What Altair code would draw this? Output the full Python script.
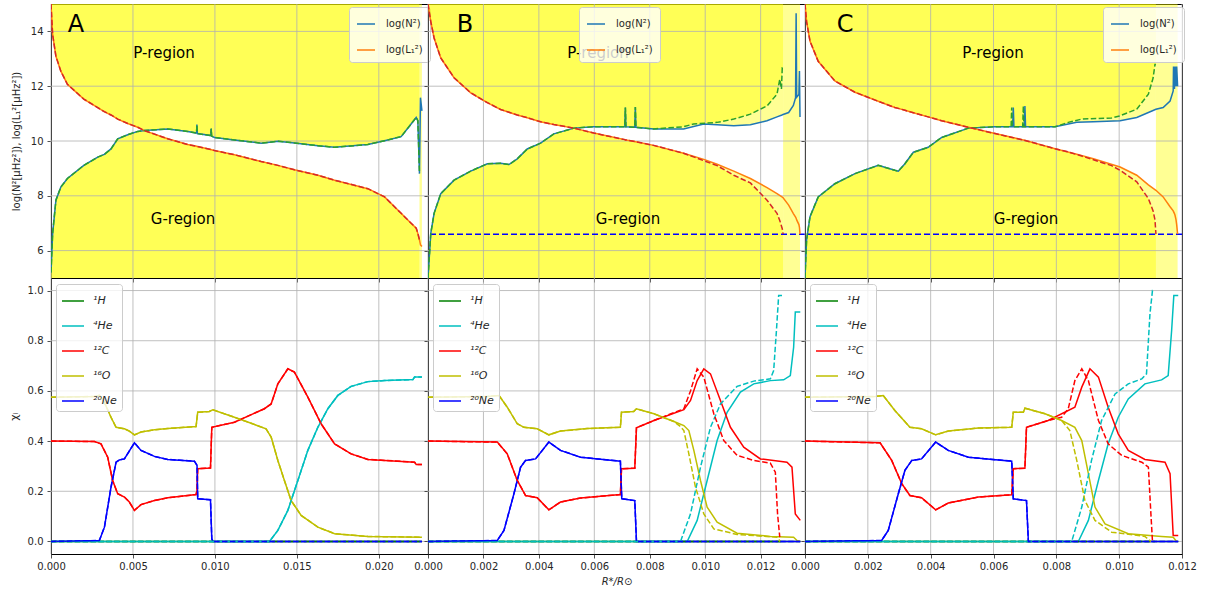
import altair as alt
import pandas as pd

# ===================== top row: log N^2 and log L1^2 =====================
# Panel A (both models coincide; model 2 stops slightly earlier)
A_x = [0, 0.0001, 0.0003, 0.0006, 0.001, 0.002, 0.00285, 0.00325, 0.00366, 0.00407,
       0.00468, 0.00529, 0.0057, 0.00712, 0.00834, 0.00888, 0.0089, 0.00893, 0.00975, 0.00977,
       0.0098, 0.00997, 0.01119, 0.01282, 0.01384, 0.01485, 0.01628, 0.0173, 0.01933, 0.02035,
       0.02136, 0.02197, 0.02228, 0.02238, 0.02248, 0.02254, 0.02263]
A_N2 = [5.2, 6.63, 7.84, 8.32, 8.63, 9.11, 9.41, 9.51, 9.71, 10.08,
        10.23, 10.35, 10.38, 10.44, 10.35, 10.29, 10.6, 10.27, 10.2, 10.45,
        10.18, 10.13, 10.04, 9.92, 9.99, 9.93, 9.83, 9.77, 9.87, 10.01,
        10.16, 10.62, 10.86, 10.74, 8.81, 11.58, 11.1]
A_L2 = [15.0, 13.88, 13.09, 12.55, 12.07, 11.53, 11.22, 11.07, 10.95, 10.80,
        10.64, 10.50, 10.38, 10.08, 9.87, 9.81, 9.80, 9.80, 9.69, 9.68,
        9.68, 9.65, 9.50, 9.25, 9.11, 8.95, 8.75, 8.57, 8.26, 7.96,
        7.36, 7.00, 6.82, 6.63, 6.39, 6.21, 6.15]
A2_x, A2_N2, A2_L2 = A_x[:35], A_N2[:35], A_L2[:35]

# Panel B, model 1 (solid)
B1_x = [0, 0.0001, 0.00022, 0.00046, 0.00094, 0.00154, 0.00214, 0.00262, 0.00292, 0.00322,
        0.00358, 0.00406, 0.00454, 0.00526, 0.00598, 0.0071, 0.00712, 0.00714, 0.00746, 0.00748,
        0.0075, 0.00814, 0.00922, 0.00995, 0.01043, 0.01103, 0.01163, 0.01223, 0.01259, 0.01277,
        0.01281, 0.01301, 0.01318, 0.01326, 0.01328, 0.0133, 0.01338, 0.0134, 0.01342]
B1_N2 = [5.0, 6.63, 7.36, 8.08, 8.57, 8.90, 9.17, 9.19, 9.14, 9.35,
         9.71, 9.92, 10.26, 10.47, 10.52, 10.52, 11.22, 10.52, 10.50, 11.24,
         10.50, 10.44, 10.44, 10.62, 10.59, 10.56, 10.59, 10.74, 10.88, 10.95,
         10.97, 11.04, 11.30, 11.58, 14.66, 11.60, 11.70, 12.55, 10.88]
B1_L2 = [15.0, 14.36, 13.76, 13.03, 12.31, 11.76, 11.40, 11.15, 11.05, 10.95,
         10.85, 10.70, 10.60, 10.47, 10.29, 10.05, 10.04, 10.04, 9.98, 9.97,
         9.97, 9.84, 9.55, 9.33, 9.15, 8.90, 8.63, 8.30, 8.08, 7.96,
         7.93, 7.66, 7.35, 7.22, 7.18, 7.12, 6.95, 6.85, 6.60]
# Panel B, model 2 (dashed)
B2_x = B1_x[:23] + [0.00958, 0.01043, 0.01103, 0.01163, 0.01223, 0.01259, 0.01269, 0.01275, 0.01278, 0.01281]
B2_N2 = B1_N2[:22] + [10.52, 10.62, 10.68, 10.80, 10.98, 11.28, 11.71, 12.25, 11.90, 12.67, 12.67]
B2_L2 = B1_L2[:23] + [9.42, 9.10, 8.75, 8.47, 7.84, 7.36, 7.10, 6.90, 6.80, 6.60]

# Panel C, model 1 (solid)
C1_x = [0, 0.00005, 0.00016, 0.00042, 0.00095, 0.00159, 0.00233, 0.00286, 0.00297, 0.00318,
        0.00345, 0.00392, 0.00435, 0.0052, 0.00605, 0.00661, 0.00663, 0.00665, 0.00698, 0.007,
        0.00702, 0.00796, 0.00865, 0.00918, 0.01003, 0.01056, 0.01093, 0.01117, 0.0114, 0.01162,
        0.01172, 0.01173, 0.01176, 0.01178, 0.01181, 0.01183, 0.01186]
C1_N2 = [5.0, 6.39, 7.24, 7.96, 8.44, 8.81, 9.11, 8.93, 8.90, 9.17,
         9.59, 9.77, 10.13, 10.47, 10.52, 10.52, 11.22, 10.52, 10.52, 11.28,
         10.52, 10.52, 10.68, 10.70, 10.74, 10.86, 11.04, 11.16, 11.22, 11.46,
         11.83, 12.72, 11.90, 12.72, 12.00, 12.72, 12.00]
C1_L2 = [15.0, 14.36, 13.64, 12.91, 12.19, 11.78, 11.45, 11.22, 11.19, 11.12,
         11.03, 10.88, 10.74, 10.50, 10.27, 10.13, 10.12, 10.12, 10.03, 10.02,
         10.02, 9.72, 9.52, 9.35, 9.05, 8.75, 8.40, 8.20, 7.96, 7.60,
         7.45, 7.42, 7.35, 7.28, 7.12, 6.95, 6.60]
# Panel C, model 2 (dashed)
C2_x = C1_x[:15] + [0.00656, 0.00658, 0.0066, 0.00693, 0.00695, 0.00697, 0.00796, 0.00838,
                    0.00881, 0.00976, 0.01003, 0.01056, 0.01093, 0.01108, 0.01114, 0.01117]
C2_N2 = C1_N2[:15] + [10.52, 11.22, 10.52, 10.52, 11.28, 10.52, 10.52, 10.68,
                      10.80, 10.84, 10.92, 11.16, 11.71, 12.30, 12.79, 12.79]
C2_L2 = C1_L2[:15] + [10.14, 10.13, 10.13, 10.04, 10.03, 10.03, 9.72, 9.60,
                      9.45, 9.10, 8.93, 8.51, 7.90, 7.45, 7.12, 6.60]

CUT_LEVEL = [6.6]   # dashed blue horizontal line in B and C

# ===================== bottom row: mass fractions =====================
SPECIES = ["¹H", "⁴He", "¹²C", "¹⁶O", "²⁰Ne"]
SP_COLORS = ["#008000", "#00bfbf", "#ff0000", "#bfbf00", "#0000ff"]

# Panel A
Ax_H = [0, 0.02263]
A_H = [0.0, 0.0]
Ax_He = [0, 0.01333, 0.01384, 0.01445, 0.01506, 0.01567, 0.01628, 0.01689, 0.0175, 0.01831,
         0.01933, 0.02035, 0.02208, 0.02218, 0.02263]
A_He = [0.0, 0.0, 0.044, 0.124, 0.243, 0.363, 0.455, 0.529, 0.582, 0.618,
        0.637, 0.641, 0.645, 0.655, 0.655]
Ax_C = [0, 0.00265, 0.00305, 0.00346, 0.00376, 0.00407, 0.00448, 0.00478, 0.00509, 0.00549,
        0.00631, 0.00712, 0.00885, 0.00891, 0.00895, 0.00973, 0.00981, 0.01119, 0.01302, 0.01343,
        0.01384, 0.01445, 0.01485, 0.01567, 0.01648, 0.0173, 0.01831, 0.01933, 0.02218, 0.02228,
        0.02263]
A_C = [0.400, 0.398, 0.389, 0.336, 0.243, 0.190, 0.177, 0.157, 0.124, 0.147,
       0.163, 0.174, 0.187, 0.203, 0.290, 0.293, 0.455, 0.475, 0.529, 0.548,
       0.628, 0.688, 0.675, 0.575, 0.469, 0.389, 0.349, 0.327, 0.316, 0.307,
       0.307]
Ax_O = [0, 0.00265, 0.00295, 0.00325, 0.00366, 0.00397, 0.00448, 0.00478, 0.00509, 0.00549,
        0.00631, 0.00712, 0.00885, 0.00895, 0.00966, 0.00987, 0.01119, 0.01221, 0.01312, 0.01343,
        0.01384, 0.01424, 0.01465, 0.01526, 0.01628, 0.0173, 0.01933, 0.02263]
A_O = [0.575, 0.578, 0.582, 0.555, 0.495, 0.455, 0.449, 0.440, 0.425, 0.436,
       0.445, 0.450, 0.458, 0.515, 0.518, 0.525, 0.495, 0.471, 0.449, 0.416,
       0.323, 0.243, 0.163, 0.104, 0.057, 0.031, 0.020, 0.017]
Ax_Ne = [0, 0.00295, 0.00326, 0.00366, 0.00397, 0.00417, 0.00448, 0.00509, 0.00549, 0.00631,
         0.00712, 0.00875, 0.00891, 0.00895, 0.00973, 0.00981, 0.00989, 0.02263]
A_Ne = [0.0, 0.004, 0.057, 0.216, 0.316, 0.325, 0.329, 0.393, 0.363, 0.339,
        0.327, 0.320, 0.303, 0.170, 0.166, 0.010, 0.0, 0.0]

# Panel B
Bx_H1 = [0, 0.01343]
B_H1 = [0.0, 0.0]
Bx_H2 = [0, 0.01281]
B_H2 = [0.0, 0.0]
Bx_He1 = [0, 0.00935, 0.00971, 0.01007, 0.01043, 0.01079, 0.01127, 0.01175, 0.01235, 0.01283,
          0.01307, 0.01319, 0.01325, 0.01343]
B_He1 = [0.0, 0.0, 0.084, 0.243, 0.402, 0.515, 0.595, 0.628, 0.641, 0.644,
         0.661, 0.774, 0.914, 0.914]
Bx_He2 = [0, 0.00911, 0.00947, 0.00983, 0.01019, 0.01055, 0.01115, 0.01175, 0.01235, 0.01247,
          0.01257, 0.01265, 0.01277]
B_He2 = [0.0, 0.0, 0.110, 0.296, 0.455, 0.548, 0.618, 0.639, 0.648, 0.681,
         0.841, 0.980, 0.980]
Bx_C1 = [0, 0.0025, 0.00286, 0.00322, 0.00352, 0.00394, 0.00436, 0.00478, 0.0055, 0.00694,
         0.00698, 0.00746, 0.00752, 0.00815, 0.00923, 0.00947, 0.00971, 0.00995, 0.01019, 0.01055,
         0.01091, 0.01139, 0.01199, 0.01295, 0.01313, 0.01325, 0.01343]
B_C1 = [0.400, 0.396, 0.349, 0.243, 0.183, 0.174, 0.126, 0.157, 0.173, 0.187,
        0.290, 0.292, 0.453, 0.482, 0.525, 0.562, 0.641, 0.688, 0.668, 0.562,
        0.455, 0.376, 0.329, 0.316, 0.296, 0.110, 0.084]
Bx_C2 = Bx_C1[:14] + [0.00923, 0.00947, 0.00971, 0.00995, 0.01031, 0.01067, 0.01115, 0.01175,
                      0.01235, 0.01253, 0.01261, 0.01269]
B_C2 = B_C1[:14] + [0.529, 0.600, 0.688, 0.655, 0.509, 0.402, 0.343, 0.323,
                    0.312, 0.276, 0.110, 0.017]
Bx_O1 = [0, 0.00214, 0.00256, 0.00286, 0.00322, 0.00346, 0.00394, 0.00436, 0.00478, 0.00574,
         0.00694, 0.00698, 0.00742, 0.00752, 0.00815, 0.00887, 0.00923, 0.00941, 0.00959, 0.00983,
         0.01007, 0.01043, 0.01115, 0.01235, 0.01319, 0.01331, 0.01343]
B_O1 = [0.575, 0.578, 0.582, 0.535, 0.469, 0.455, 0.449, 0.425, 0.440, 0.450,
        0.455, 0.515, 0.518, 0.529, 0.509, 0.478, 0.462, 0.442, 0.363, 0.243,
        0.137, 0.077, 0.033, 0.020, 0.017, 0.004, 0.0]
Bx_O2 = Bx_O1[:15] + [0.00887, 0.00911, 0.00923, 0.00941, 0.00965, 0.00995, 0.01031, 0.01115,
                      0.01259, 0.01271]
B_O2 = B_O1[:15] + [0.478, 0.458, 0.442, 0.349, 0.216, 0.110, 0.050, 0.028, 0.017, 0.0]
Bx_Ne = [0, 0.0025, 0.00274, 0.0031, 0.00334, 0.00352, 0.00388, 0.00436, 0.00478, 0.0055,
         0.00694, 0.00699, 0.00746, 0.00752, 0.01343]
B_Ne = [0.0, 0.004, 0.044, 0.190, 0.296, 0.323, 0.329, 0.396, 0.363, 0.336,
        0.320, 0.170, 0.163, 0.0, 0.0]

# Panel C
Cx_H1 = [0, 0.01188]
C_H1 = [0.0, 0.0]
Cx_H2 = [0, 0.01114]
C_H2 = [0.0, 0.0]
Cx_He1 = [0, 0.0087, 0.00902, 0.00934, 0.00965, 0.00997, 0.01029, 0.01082, 0.01135, 0.01156,
          0.01167, 0.01174, 0.01188]
C_He1 = [0.0, 0.0, 0.084, 0.243, 0.389, 0.495, 0.568, 0.628, 0.644, 0.661,
         0.841, 0.980, 0.980]
Cx_He2 = [0, 0.00849, 0.00881, 0.00912, 0.00944, 0.00987, 0.01029, 0.01072, 0.01087, 0.01098,
          0.01106, 0.01114]
C_He2 = [0.0, 0.0, 0.137, 0.323, 0.482, 0.588, 0.628, 0.648, 0.668, 0.907,
         1.0, 1.0]
Cx_C1 = [0, 0.00239, 0.00276, 0.00308, 0.00334, 0.00371, 0.00416, 0.00456, 0.00552, 0.00658,
         0.00663, 0.007, 0.00705, 0.00774, 0.00859, 0.00881, 0.00907, 0.00934, 0.00965, 0.00997,
         0.01029, 0.01082, 0.01146, 0.01162, 0.01172, 0.01188]
C_C1 = [0.400, 0.393, 0.323, 0.230, 0.183, 0.174, 0.126, 0.153, 0.177, 0.186,
        0.290, 0.292, 0.455, 0.482, 0.535, 0.615, 0.688, 0.655, 0.535, 0.429,
        0.363, 0.327, 0.316, 0.270, 0.024, 0.024]
Cx_C2 = Cx_C1[:13] + [0.00774, 0.00817, 0.00838, 0.00859, 0.00881, 0.00902, 0.00934, 0.00965,
                      0.01008, 0.01072, 0.01093, 0.01101, 0.01106]
C_C2 = C_C1[:13] + [0.482, 0.495, 0.529, 0.641, 0.688, 0.641, 0.482, 0.389,
                    0.343, 0.316, 0.296, 0.110, 0.0]
Cx_O1 = [0, 0.00223, 0.00249, 0.00286, 0.00334, 0.00371, 0.00416, 0.00456, 0.00552, 0.00658,
         0.00663, 0.00695, 0.007, 0.00764, 0.00817, 0.00859, 0.00881, 0.00902, 0.00923, 0.00955,
         0.01029, 0.01135, 0.01172, 0.01183]
C_O1 = [0.575, 0.578, 0.582, 0.522, 0.455, 0.449, 0.425, 0.440, 0.452, 0.455,
        0.515, 0.515, 0.531, 0.509, 0.482, 0.455, 0.402, 0.270, 0.137, 0.070,
        0.031, 0.020, 0.017, 0.0]
Cx_O2 = Cx_O1[:15] + [0.00843, 0.00865, 0.00891, 0.00923, 0.00976, 0.01082, 0.01101]
C_O2 = C_O1[:15] + [0.442, 0.323, 0.163, 0.084, 0.037, 0.020, 0.0]
Cx_Ne = [0, 0.00244, 0.00265, 0.00297, 0.00318, 0.0034, 0.00371, 0.00416, 0.00456, 0.0052,
         0.00658, 0.00663, 0.00705, 0.00711, 0.01188]
C_Ne = [0.0, 0.004, 0.044, 0.190, 0.283, 0.323, 0.329, 0.396, 0.363, 0.336,
        0.320, 0.170, 0.163, 0.0, 0.0]

# ticks
TOP_Y_TICKS = [6, 8, 10, 12, 14]
BOT_Y_TICKS = [0.0, 0.2, 0.4, 0.6, 0.8, 1.0]
A_XTICKS = [0.0, 0.005, 0.010, 0.015, 0.020]
BC_XTICKS = [0.0, 0.002, 0.004, 0.006, 0.008, 0.010, 0.012]

# ===================== styling =====================
FONT = "DejaVu Sans"
TXT = "#262626"
GRID = "#b0b0b0"
YEL = "#ffff00"
FOP = 0.42
W = 377
HT = 274
HB = 276
DASH = [5.5, 2.4]
ONE = pd.DataFrame({"k": [0]})
N_COL, L_COL, N2_COL, L2_COL = "#1f77b4", "#ff7f0e", "#2ca02c", "#d62728"
TOP_NAMES = ["log(N²)", "log(L₁²)"]
YTITLE_TOP = "log(N²[μHz²]), log(L₁²[μHz²])"


def frame(x, n, l):
    d = pd.DataFrame({"x": x, "N": n, "L": l})
    d["hi"] = d[["N", "L"]].max(axis=1)
    d["lo"] = d[["N", "L"]].min(axis=1)
    d["i"] = range(len(d))
    return d


def top_panel(m1, m2, xdom, xticks, first, hline, legend_x, letter, letter_x, p_x, g_x):
    d1, d2 = frame(*m1), frame(*m2)
    end1, end2 = d1["x"].max(), d2["x"].max()
    f1 = d1[d1["x"] <= end2].reset_index(drop=True)
    xs = alt.Scale(domain=xdom, nice=False, zero=False)
    ys = alt.Scale(domain=[5, 15], nice=False, zero=False)
    xax = alt.Axis(values=xticks, labels=False, ticks=True, tickSize=4, grid=False,
                   title=None, domain=False)
    if first:
        yax = alt.Axis(values=TOP_Y_TICKS, format="d", title=YTITLE_TOP, titleFontSize=10,
                       labelFontSize=10, tickSize=4, labelPadding=4, grid=False, domain=False,
                       titlePadding=9)
    else:
        yax = alt.Axis(values=TOP_Y_TICKS, labels=False, title=None, tickSize=4,
                       grid=False, domain=False)

    def X(f="x"):
        return alt.X(f + ":Q", scale=xs, axis=xax)

    def Y(f):
        return alt.Y(f + ":Q", scale=ys, axis=yax)

    layers = []
    for d in (f1, d2):
        base = alt.Chart(d).transform_calculate(top="15", bot="5")
        layers.append(base.mark_area(color=YEL, opacity=FOP, clip=True)
                      .encode(x=X(), y=Y("hi"), y2="top:Q"))
        layers.append(base.mark_area(color=YEL, opacity=FOP, clip=True)
                      .encode(x=X(), y=Y("lo"), y2="bot:Q"))
    band = pd.DataFrame({"a": [end2], "b": [end1]})
    layers.append(alt.Chart(band).mark_rect(color=YEL, opacity=FOP)
                  .encode(x=X("a"), x2="b:Q"))
    layers.append(alt.Chart(pd.DataFrame({"x": xticks})).mark_rule(color=GRID, strokeWidth=0.8)
                  .encode(x=X()))
    layers.append(alt.Chart(pd.DataFrame({"y": TOP_Y_TICKS})).mark_rule(color=GRID, strokeWidth=0.8)
                  .encode(y=Y("y")))
    if hline:
        layers.append(alt.Chart(pd.DataFrame({"y": CUT_LEVEL}))
                      .mark_rule(color="#0000ff", strokeWidth=1.5, strokeDash=[6, 3])
                      .encode(y=Y("y")))
    solid = pd.concat([
        pd.DataFrame({"x": d1["x"], "v": d1["N"], "s": TOP_NAMES[0], "i": d1["i"]}),
        pd.DataFrame({"x": d1["x"], "v": d1["L"], "s": TOP_NAMES[1], "i": d1["i"]}),
    ])
    layers.append(alt.Chart(solid).mark_line(strokeWidth=1.5, clip=True).encode(
        x=X(), y=Y("v"), order="i:Q",
        color=alt.Color("s:N", scale=alt.Scale(domain=TOP_NAMES, range=[N_COL, L_COL]),
                        legend=alt.Legend(orient="none", legendX=legend_x, legendY=3, title=None,
                                          symbolType="stroke", symbolSize=324,
                                          symbolStrokeWidth=1.5, labelFontSize=10,
                                          labelFont=FONT, labelColor=TXT, labelOffset=10,
                                          fillColor="rgba(255,255,255,0.8)",
                                          strokeColor="#cccccc", cornerRadius=3,
                                          padding=7, rowPadding=11))))
    layers.append(alt.Chart(d2).mark_line(strokeWidth=1.5, color=N2_COL, strokeDash=DASH, clip=True)
                  .encode(x=X(), y=Y("N"), order="i:Q"))
    layers.append(alt.Chart(d2).mark_line(strokeWidth=1.5, color=L2_COL, strokeDash=DASH, clip=True)
                  .encode(x=X(), y=Y("L"), order="i:Q"))
    layers.append(alt.Chart(ONE).mark_text(text=letter, font=FONT, fontSize=24, color="black",
                                          align="center", baseline="alphabetic")
                  .encode(x=alt.value(letter_x), y=alt.value(28)))
    layers.append(alt.Chart(ONE).mark_text(text="P-region", font=FONT, fontSize=15, color="black",
                                          align="center", baseline="alphabetic")
                  .encode(x=alt.value(p_x), y=alt.value(54)))
    layers.append(alt.Chart(ONE).mark_text(text="G-region", font=FONT, fontSize=15, color="black",
                                          align="center", baseline="alphabetic")
                  .encode(x=alt.value(g_x), y=alt.value(220)))
    return alt.layer(*layers).properties(width=W, height=HT)


def bottom_panel(solid, dashed, xdom, xticks, first, xtitle):
    xs = alt.Scale(domain=xdom, nice=False, zero=False)
    ys = alt.Scale(domain=[-0.05, 1.05], nice=False, zero=False)
    xax = alt.Axis(values=xticks, format=".3f", labelFontSize=10, tickSize=4, labelPadding=3,
                   grid=False, domain=False, labelFlush=False, labelOverlap=False,
                   title=xtitle if xtitle else None, titleFontSize=10, titleFontStyle="italic",
                   titleFontWeight="normal", titlePadding=5)
    if first:
        yax = alt.Axis(values=BOT_Y_TICKS, format=".1f", title="χᵢ", titleFontSize=11,
                       labelFontSize=10, tickSize=4, labelPadding=4, grid=False, domain=False,
                       titlePadding=8)
    else:
        yax = alt.Axis(values=BOT_Y_TICKS, labels=False, title=None, tickSize=4,
                       grid=False, domain=False)

    def X(f="x"):
        return alt.X(f + ":Q", scale=xs, axis=xax)

    def Y(f):
        return alt.Y(f + ":Q", scale=ys, axis=yax)

    layers = [
        alt.Chart(pd.DataFrame({"x": xticks})).mark_rule(color=GRID, strokeWidth=0.8).encode(x=X()),
        alt.Chart(pd.DataFrame({"y": BOT_Y_TICKS})).mark_rule(color=GRID, strokeWidth=0.8).encode(y=Y("y")),
    ]
    rows = []
    for sp, (xv, yv) in zip(SPECIES, solid):
        rows.append(pd.DataFrame({"x": xv, "v": yv, "s": sp, "i": range(len(xv))}))
    sdf = pd.concat(rows)
    layers.append(alt.Chart(sdf).mark_line(strokeWidth=1.5, clip=True).encode(
        x=X(), y=Y("v"), order="i:Q",
        color=alt.Color("s:N", scale=alt.Scale(domain=SPECIES, range=SP_COLORS),
                        legend=alt.Legend(orient="none", legendX=5, legendY=6, title=None,
                                          symbolType="stroke", symbolSize=484,
                                          symbolStrokeWidth=1.5, labelFontSize=11,
                                          labelFontStyle="italic", labelFont=FONT,
                                          labelColor=TXT, labelOffset=8,
                                          fillColor="rgba(255,255,255,0.8)",
                                          strokeColor="#cccccc", cornerRadius=3,
                                          padding=5, rowPadding=8))))
    for col, (xv, yv) in zip(SP_COLORS, dashed):
        d = pd.DataFrame({"x": xv, "v": yv, "i": range(len(xv))})
        layers.append(alt.Chart(d).mark_line(strokeWidth=1.5, color=col, strokeDash=DASH, clip=True)
                      .encode(x=X(), y=Y("v"), order="i:Q"))
    return alt.layer(*layers).properties(width=W, height=HB)


tA = top_panel((A_x, A_N2, A_L2), (A2_x, A2_N2, A2_L2), [0, 0.023], A_XTICKS, True, False,
               298, "A", 25, 113, 132)
tB = top_panel((B1_x, B1_N2, B1_L2), (B2_x, B2_N2, B2_L2), [0, 0.0136], BC_XTICKS, False, True,
               151, "B", 37, 170, 200)
tC = top_panel((C1_x, C1_N2, C1_L2), (C2_x, C2_N2, C2_L2), [0, 0.012], BC_XTICKS, False, True,
               298, "C", 40, 188, 221)

A_sol = [(Ax_H, A_H), (Ax_He, A_He), (Ax_C, A_C), (Ax_O, A_O), (Ax_Ne, A_Ne)]
B_sol = [(Bx_H1, B_H1), (Bx_He1, B_He1), (Bx_C1, B_C1), (Bx_O1, B_O1), (Bx_Ne, B_Ne)]
B_das = [(Bx_H2, B_H2), (Bx_He2, B_He2), (Bx_C2, B_C2), (Bx_O2, B_O2), (Bx_Ne, B_Ne)]
C_sol = [(Cx_H1, C_H1), (Cx_He1, C_He1), (Cx_C1, C_C1), (Cx_O1, C_O1), (Cx_Ne, C_Ne)]
C_das = [(Cx_H2, C_H2), (Cx_He2, C_He2), (Cx_C2, C_C2), (Cx_O2, C_O2), (Cx_Ne, C_Ne)]

bA = bottom_panel(A_sol, A_sol, [0, 0.023], A_XTICKS, True, None)
bB = bottom_panel(B_sol, B_das, [0, 0.0136], BC_XTICKS, False, "R*/R⊙")
bC = bottom_panel(C_sol, C_das, [0, 0.012], BC_XTICKS, False, None)

chart = alt.concat(tA, tB, tC, bA, bB, bC, columns=3, spacing=0, bounds="flush").resolve_scale(
    color="independent", x="independent", y="independent").resolve_legend(
    color="independent").configure_view(stroke="black", strokeWidth=1).configure_axis(
    labelFont=FONT, titleFont=FONT, labelColor=TXT, titleColor=TXT, tickColor=TXT,
    tickWidth=0.8, titleFontWeight="normal").properties(
    padding={"left": 7, "top": 3, "right": 5, "bottom": 5}, background="white")

chart.save("out.html", embed_options={"renderer": "svg", "actions": False})
